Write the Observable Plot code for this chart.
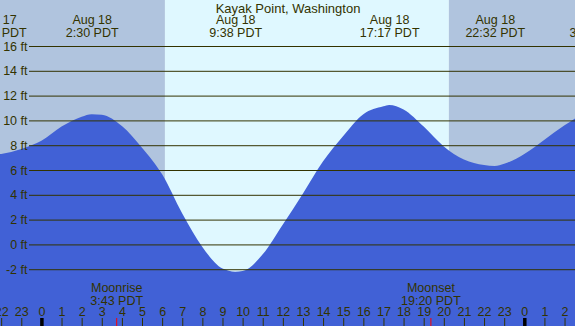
<!DOCTYPE html>
<html>
<head>
<meta charset="utf-8">
<script src="https://cdn.jsdelivr.net/npm/d3@7"></script>
<script src="https://cdn.jsdelivr.net/npm/@observablehq/plot@0.6"></script>
<style>
  html, body { margin: 0; padding: 0; overflow: hidden; background: #fff; }
</style>
</head>
<body>
<div id="chart"></div>
<script>
// ---- data (hours from midnight Aug 18, PDT; heights in ft) ----
const tideHours   = [-2.24, -2, -1, 0, 1, 2, 2.5, 3, 4, 5, 6, 7, 8, 9, 9.63, 10, 11, 12, 13, 14, 15, 16, 17, 17.28, 18, 19, 20, 21, 22, 22.53, 23, 24, 25, 26, 27];
const tideHeights = [7.25, 7.3, 7.7, 8.35, 9.5, 10.3, 10.5, 10.45, 9.55, 7.8, 5.65, 2.5, -0.2, -1.95, -2.2, -2.15, -0.8, 1.6, 4.1, 6.7, 8.75, 10.5, 11.14, 11.25, 10.88, 9.5, 7.9, 6.85, 6.4, 6.32, 6.5, 7.3, 8.45, 9.6, 10.65];

const extremeHours = [-2.24, 2.5, 9.633, 17.283, 22.533, 27.53];
const extremeDays  = ["Aug 17", "Aug 18", "Aug 18", "Aug 18", "Aug 18", "Aug 19"];
const extremeTimes = ["21:46 PDT", "2:30 PDT", "9:38 PDT", "17:17 PDT", "22:32 PDT", "3:32 PDT"];

const moonHours  = [3.717, 19.333];
const moonEvents = ["Moonrise", "Moonset"];
const moonTimes  = ["3:43 PDT", "19:20 PDT"];

const sunriseHour = 6.14;
const sunsetHour  = 20.25;

const yTicks    = [-2, 0, 2, 4, 6, 8, 10, 12, 14, 16];
const hourTicks = [-2, -1, 0, 1, 2, 3, 4, 5, 6, 7, 8, 9, 10, 11, 12, 13, 14, 15, 16, 17, 18, 19, 20, 21, 22, 23, 24, 25, 26];
const midnightHours = [0, 24];

const title = "Kayak Point, Washington";

// ---- build ----
const xDomain = [-2.058, 26.52];
const yDomain = [-6.58, 19.71];
const ink = "#333300";
const nightFill = "#b0c4de";
const dayFill = "#dff8ff";
const water = "#4161d6";

const tide = tideHours.map((h, i) => ({h, ft: tideHeights[i]}));
const extremes = extremeHours.map((h, i) => ({h, label: extremeDays[i] + "\n" + extremeTimes[i]}));
const moon = moonHours.map((h, i) => ({h, label: moonEvents[i] + "\n" + moonTimes[i]}));
const periods = [
  {start: xDomain[0] - 1, end: sunriseHour, fill: nightFill},
  {start: sunriseHour, end: sunsetHour, fill: dayFill},
  {start: sunsetHour, end: xDomain[1] + 1, fill: nightFill}
];

const chart = Plot.plot({
  width: 575,
  height: 326,
  margin: 0,
  x: {domain: xDomain, range: [0, 575], axis: null},
  y: {domain: yDomain, range: [326, 0], axis: null},
  style: {fontFamily: "'Liberation Sans', Arial, sans-serif", fontSize: "12.5px", background: "none", overflow: "hidden"},
  marks: [
    ...periods.map(p => Plot.rect([p], {x1: "start", x2: "end", fill: p.fill})),
    Plot.area(tide, {x1: "h", y1: yDomain[0], y2: "ft", fill: water, curve: "monotone-x"}),
    Plot.ruleY(yTicks, {stroke: ink, strokeWidth: 1, insetLeft: 29}),
    Plot.text(yTicks, {x: xDomain[0], y: d => d, text: d => `${d} ft`, textAnchor: "end", dx: 27, fill: ink}),
    Plot.text([title], {frameAnchor: "top", lineAnchor: "top", dy: 3, fontSize: 13, fill: ink}),
    Plot.text(extremes, {x: "h", text: "label", frameAnchor: "top", lineAnchor: "top", dy: 14.2, lineHeight: 1.04, fill: ink}),
    Plot.text(moon, {x: "h", text: "label", frameAnchor: "bottom", lineAnchor: "bottom", dy: -21.7, lineHeight: 1.0, fill: ink}),
    Plot.text(hourTicks, {x: d => d, text: d => String(((d % 24) + 24) % 24), frameAnchor: "bottom", lineAnchor: "bottom", dy: -10.3, fill: ink}),
    Plot.ruleX(hourTicks.filter(d => !midnightHours.includes(d)), {x: d => d, stroke: ink, strokeWidth: 1, insetTop: 318}),
    Plot.ruleX(midnightHours, {x: d => d, stroke: "#000", strokeWidth: 3.5, insetTop: 318}),
    Plot.ruleX(moonHours, {x: d => d, stroke: "#ff0000", strokeWidth: 1, insetTop: 318})
  ]
});
document.getElementById("chart").appendChild(chart);
</script>
</body>
</html>
